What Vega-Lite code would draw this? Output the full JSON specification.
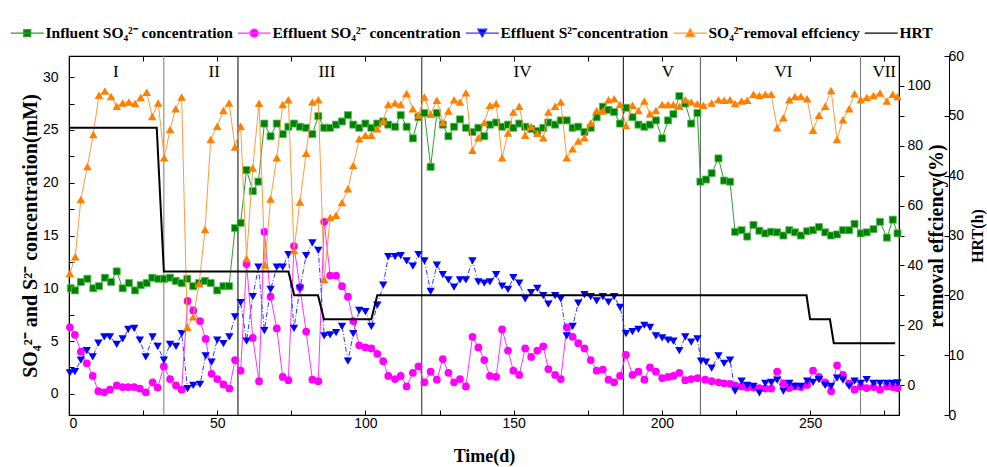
{
  "$schema": "https://vega.github.io/schema/vega-lite/v6.json",
  "width": 830,
  "height": 359,
  "autosize": {"type": "none"},
  "padding": {"left": 69, "top": 56, "right": 88, "bottom": 52},
  "background": "white",
  "config": {
    "view": {"stroke": "black", "strokeWidth": 1.2},
    "axis": {"grid": false, "domainColor": "black", "tickColor": "black", "labelColor": "black", "titleColor": "black", "labelFont": "Liberation Sans", "labelFontSize": 14, "titleFont": "Liberation Serif", "titleFontWeight": "bold", "tickWidth": 1, "domainWidth": 1}
  },
  "datasets": {
    "inf": [
      {"d":0.6,"v":10.0},{"d":2.0,"v":9.8},{"d":4.0,"v":10.6},{"d":6.2,"v":10.9},{"d":8.2,"v":10.0},{"d":10.1,"v":10.2},{"d":12.1,"v":11.0},{"d":14.2,"v":10.6},{"d":16.1,"v":11.6},{"d":18.1,"v":10.0},{"d":20.2,"v":10.5},{"d":22.3,"v":9.8},{"d":24.2,"v":10.3},{"d":26.2,"v":10.5},{"d":28.1,"v":11.0},{"d":30.1,"v":10.9},{"d":32.1,"v":10.9},{"d":34.1,"v":11.0},{"d":36.0,"v":10.7},{"d":38.0,"v":10.5},{"d":39.9,"v":10.9},{"d":41.9,"v":10.2},{"d":43.9,"v":10.5},{"d":45.9,"v":10.7},{"d":47.8,"v":10.5},{"d":50.0,"v":9.8},{"d":52.1,"v":10.2},{"d":54.0,"v":10.2},
      {"d":56.0,"v":15.7},{"d":57.9,"v":16.2},{"d":59.9,"v":21.2},{"d":62.0,"v":19.2},{"d":63.9,"v":20.1},{"d":65.9,"v":25.6},{"d":68.0,"v":24.4},{"d":70.1,"v":25.6},{"d":72.1,"v":24.6},{"d":74.0,"v":25.3},{"d":75.9,"v":25.6},{"d":77.9,"v":25.3},{"d":80.0,"v":25.2},{"d":82.1,"v":24.6},{"d":84.1,"v":26.3},{"d":86.1,"v":25.2},{"d":88.1,"v":25.2},{"d":90.1,"v":25.5},{"d":92.1,"v":25.8},{"d":94.1,"v":26.4},{"d":95.9,"v":25.5},{"d":97.9,"v":25.2},{"d":100.0,"v":25.6},{"d":102.0,"v":25.2},{"d":104.0,"v":25.6},{"d":106.0,"v":25.8},{"d":107.7,"v":25.5},
      {"d":110.0,"v":25.3},{"d":111.9,"v":26.4},{"d":113.9,"v":25.3},{"d":116.0,"v":24.2},{"d":117.9,"v":26.2},{"d":119.9,"v":26.6},{"d":122.0,"v":21.5},{"d":124.1,"v":26.6},{"d":126.1,"v":25.5},{"d":128.0,"v":24.4},{"d":129.9,"v":25.3},{"d":131.9,"v":26.0},{"d":133.9,"v":25.2},{"d":136.1,"v":24.8},{"d":138.1,"v":25.2},{"d":140.1,"v":24.4},{"d":142.0,"v":25.5},{"d":144.1,"v":25.7},{"d":146.1,"v":25.3},{"d":148.1,"v":25.5},{"d":149.9,"v":25.2},{"d":151.9,"v":25.6},{"d":153.9,"v":25.3},{"d":155.9,"v":25.1},{"d":158.0,"v":24.9},{"d":160.0,"v":25.2},{"d":161.7,"v":25.7},
      {"d":164.0,"v":25.5},{"d":165.9,"v":25.9},{"d":167.9,"v":25.9},{"d":169.9,"v":25.2},{"d":171.8,"v":25.3},{"d":173.9,"v":24.8},{"d":176.0,"v":25.2},{"d":178.0,"v":26.2},{"d":180.1,"v":27.2},{"d":182.0,"v":26.9},{"d":183.9,"v":26.7},{"d":185.9,"v":25.6},{"d":187.9,"v":27.1},{"d":190.1,"v":26.2},{"d":192.1,"v":25.5},{"d":194.1,"v":25.3},{"d":196.0,"v":25.5},{"d":198.0,"v":25.9},{"d":200.1,"v":24.2},{"d":202.1,"v":25.9},{"d":203.9,"v":26.5},{"d":205.9,"v":28.2},{"d":207.9,"v":27.5},{"d":209.9,"v":25.6},{"d":212.0,"v":26.6},
      {"d":213.0,"v":20.1},{"d":214.9,"v":20.3},{"d":216.8,"v":20.9},{"d":219.1,"v":22.3},{"d":221.0,"v":20.2},{"d":223.0,"v":20.1},{"d":224.7,"v":15.35},{"d":226.9,"v":15.5},{"d":228.8,"v":14.9},{"d":230.9,"v":16.0},{"d":232.9,"v":15.45},{"d":234.9,"v":15.2},{"d":236.9,"v":15.35},{"d":238.9,"v":15.3},{"d":241.0,"v":15.0},{"d":243.0,"v":15.5},{"d":244.9,"v":15.3},{"d":246.9,"v":15.0},{"d":249.0,"v":15.4},{"d":251.0,"v":15.5},{"d":253.0,"v":15.8},{"d":255.1,"v":15.3},{"d":257.1,"v":15.0},{"d":259.1,"v":15.1},{"d":261.1,"v":15.5},{"d":263.2,"v":15.5},{"d":265.0,"v":16.1},{"d":267.1,"v":15.2},{"d":269.1,"v":15.3},{"d":271.4,"v":15.6},{"d":273.6,"v":16.3},{"d":275.9,"v":14.8},{"d":277.9,"v":16.5},{"d":279.5,"v":15.2}
    ],
    "eff": [
      {"d":0.3,"v":6.3},{"d":2.0,"v":5.6},{"d":4.0,"v":4.0},{"d":6.0,"v":2.9},{"d":8.0,"v":1.7},{"d":9.9,"v":0.25},{"d":11.9,"v":0.15},{"d":13.8,"v":0.4},{"d":16.1,"v":0.8},{"d":18.1,"v":0.65},{"d":20.0,"v":0.65},{"d":22.0,"v":0.65},{"d":23.9,"v":0.5},{"d":25.9,"v":0.15},{"d":28.2,"v":1.1},{"d":29.9,"v":0.6},{"d":32.0,"v":2.6},{"d":34.1,"v":1.4},{"d":36.1,"v":0.8},{"d":38.0,"v":0.4},{"d":40.0,"v":8.8},{"d":41.9,"v":7.9},{"d":44.2,"v":6.9},{"d":46.1,"v":5.2},{"d":48.1,"v":1.9},{"d":50.0,"v":1.4},{"d":52.1,"v":0.9},{"d":54.1,"v":0.5},
      {"d":56.0,"v":3.2},{"d":57.9,"v":2.2},{"d":59.9,"v":12.3},{"d":62.0,"v":5.3},{"d":64.1,"v":1.2},{"d":65.9,"v":15.35},{"d":68.0,"v":9.2},{"d":70.1,"v":6.2},{"d":72.1,"v":1.6},{"d":74.0,"v":1.3},{"d":75.9,"v":14.0},{"d":77.9,"v":10.1},{"d":80.0,"v":5.9},{"d":82.1,"v":1.35},{"d":84.1,"v":1.2},{"d":86.1,"v":16.3},{"d":88.1,"v":11.2},{"d":90.1,"v":11.2},{"d":92.1,"v":10.2},{"d":94.1,"v":9.2},{"d":95.9,"v":6.9},{"d":97.9,"v":4.6},{"d":100.0,"v":4.4},{"d":102.0,"v":4.3},{"d":104.0,"v":3.8},{"d":106.0,"v":3.1},{"d":107.7,"v":1.7},
      {"d":110.0,"v":1.4},{"d":111.9,"v":1.7},{"d":113.9,"v":0.7},{"d":116.0,"v":2.0},{"d":117.9,"v":2.6},{"d":119.9,"v":1.1},{"d":122.0,"v":2.1},{"d":124.1,"v":1.35},{"d":126.1,"v":3.3},{"d":128.0,"v":2.0},{"d":129.9,"v":1.1},{"d":131.9,"v":1.4},{"d":133.9,"v":0.7},{"d":136.1,"v":5.4},{"d":138.1,"v":4.4},{"d":140.1,"v":3.2},{"d":142.0,"v":1.7},{"d":144.1,"v":1.6},{"d":146.1,"v":6.1},{"d":148.1,"v":4.1},{"d":149.9,"v":2.2},{"d":151.9,"v":1.8},{"d":153.9,"v":4.3},{"d":155.9,"v":3.5},{"d":158.0,"v":4.1},{"d":160.0,"v":4.5},{"d":161.7,"v":2.35},
      {"d":164.0,"v":1.8},{"d":165.9,"v":1.4},{"d":167.9,"v":6.3},{"d":169.9,"v":5.4},{"d":171.8,"v":4.8},{"d":173.9,"v":4.3},{"d":176.0,"v":3.2},{"d":178.0,"v":2.2},{"d":180.1,"v":2.3},{"d":182.0,"v":1.35},{"d":183.9,"v":1.1},{"d":185.9,"v":1.7},{"d":187.9,"v":3.7},{"d":190.1,"v":1.8},{"d":192.1,"v":2.1},{"d":194.1,"v":1.35},{"d":196.0,"v":2.5},{"d":198.0,"v":2.1},{"d":200.1,"v":1.5},{"d":202.1,"v":1.6},{"d":203.9,"v":1.7},{"d":205.9,"v":2.0},{"d":207.9,"v":1.3},{"d":209.9,"v":1.4},{"d":212.0,"v":1.5},
      {"d":214.6,"v":1.35},{"d":216.8,"v":1.2},{"d":219.1,"v":1.1},{"d":221.0,"v":1.0},{"d":223.0,"v":0.95},{"d":224.7,"v":0.8},{"d":226.9,"v":0.7},{"d":228.8,"v":0.6},{"d":230.9,"v":0.6},{"d":232.9,"v":0.55},{"d":234.9,"v":0.5},{"d":236.9,"v":0.5},{"d":238.9,"v":2.1},{"d":241.0,"v":1.0},{"d":243.0,"v":0.55},{"d":244.9,"v":0.7},{"d":246.9,"v":0.65},{"d":249.0,"v":0.85},{"d":251.0,"v":2.2},{"d":253.0,"v":1.6},{"d":255.1,"v":1.1},{"d":257.1,"v":0.25},{"d":259.1,"v":2.7},{"d":261.1,"v":1.8},{"d":263.2,"v":1.0},{"d":265.0,"v":0.4},{"d":267.1,"v":0.7},{"d":269.1,"v":0.55},{"d":271.4,"v":0.65},{"d":273.6,"v":0.4},{"d":275.9,"v":0.7},{"d":277.9,"v":0.65},{"d":279.5,"v":0.55}
    ],
    "s2": [
      {"d":0.3,"v":2.0},{"d":2.0,"v":2.1},{"d":4.0,"v":3.2},{"d":6.0,"v":4.1},{"d":8.0,"v":3.5},{"d":9.9,"v":4.8},{"d":11.9,"v":5.4},{"d":13.8,"v":5.4},{"d":16.1,"v":4.7},{"d":18.1,"v":5.2},{"d":20.0,"v":6.1},{"d":22.0,"v":6.2},{"d":23.9,"v":5.1},{"d":25.9,"v":3.5},{"d":28.2,"v":5.4},{"d":29.9,"v":4.5},{"d":32.0,"v":3.2},{"d":34.1,"v":4.7},{"d":36.1,"v":4.5},{"d":38.0,"v":5.7},{"d":40.0,"v":0.5},{"d":41.9,"v":0.8},{"d":44.2,"v":0.9},{"d":46.1,"v":3.6},{"d":48.1,"v":3.0},{"d":50.0,"v":5.1},{"d":52.1,"v":4.75},{"d":54.1,"v":5.4},
      {"d":56.0,"v":7.3},{"d":57.9,"v":8.65},{"d":59.9,"v":5.0},{"d":62.0,"v":9.2},{"d":63.9,"v":12.0},{"d":65.9,"v":6.0},{"d":68.0,"v":9.9},{"d":70.1,"v":12.0},{"d":72.1,"v":12.0},{"d":74.0,"v":13.2},{"d":75.9,"v":6.2},{"d":77.9,"v":10.0},{"d":80.0,"v":13.1},{"d":82.1,"v":14.3},{"d":84.1,"v":13.6},{"d":86.1,"v":5.5},{"d":88.1,"v":5.6},{"d":90.1,"v":5.8},{"d":92.1,"v":6.4},{"d":94.1,"v":3.1},{"d":95.9,"v":5.7},{"d":97.9,"v":7.9},{"d":100.0,"v":7.8},{"d":102.0,"v":6.4},{"d":104.0,"v":8.4},{"d":106.0,"v":10.3},{"d":107.7,"v":13.0},
      {"d":110.0,"v":13.0},{"d":111.9,"v":13.1},{"d":113.9,"v":12.6},{"d":116.0,"v":12.1},{"d":117.9,"v":13.2},{"d":119.9,"v":12.6},{"d":122.0,"v":9.7},{"d":124.1,"v":12.2},{"d":126.1,"v":11.3},{"d":128.0,"v":10.8},{"d":129.9,"v":10.1},{"d":131.9,"v":10.8},{"d":133.9,"v":10.8},{"d":136.1,"v":12.6},{"d":138.1,"v":10.6},{"d":140.1,"v":10.5},{"d":142.0,"v":10.6},{"d":144.1,"v":11.3},{"d":146.1,"v":10.2},{"d":148.1,"v":9.9},{"d":149.9,"v":11.0},{"d":151.9,"v":10.5},{"d":153.9,"v":9.0},{"d":155.9,"v":9.6},{"d":158.0,"v":10.0},{"d":160.0,"v":9.3},{"d":161.7,"v":8.5},
      {"d":164.0,"v":9.3},{"d":165.9,"v":9.0},{"d":167.9,"v":5.5},{"d":169.9,"v":6.4},{"d":171.8,"v":8.6},{"d":173.9,"v":9.4},{"d":176.0,"v":9.2},{"d":178.0,"v":8.8},{"d":180.1,"v":9.2},{"d":182.0,"v":8.7},{"d":183.9,"v":9.2},{"d":185.9,"v":8.2},{"d":187.9,"v":5.7},{"d":190.1,"v":5.9},{"d":192.1,"v":6.1},{"d":194.1,"v":6.5},{"d":196.0,"v":6.3},{"d":198.0,"v":5.5},{"d":200.1,"v":5.3},{"d":202.1,"v":5.1},{"d":203.9,"v":5.0},{"d":205.9,"v":4.1},{"d":207.9,"v":5.4},{"d":209.9,"v":4.9},{"d":212.0,"v":5.2},
      {"d":213.2,"v":3.1},{"d":214.9,"v":3.0},{"d":216.8,"v":2.45},{"d":219.1,"v":3.6},{"d":221.0,"v":2.9},{"d":223.0,"v":3.2},{"d":224.7,"v":0.25},{"d":226.9,"v":1.2},{"d":228.8,"v":0.8},{"d":230.9,"v":0.7},{"d":232.9,"v":0.1},{"d":234.9,"v":1.0},{"d":236.9,"v":1.1},{"d":238.9,"v":1.3},{"d":241.0,"v":0.25},{"d":243.0,"v":1.0},{"d":244.9,"v":0.7},{"d":246.9,"v":0.7},{"d":249.0,"v":1.2},{"d":251.0,"v":1.1},{"d":253.0,"v":1.35},{"d":255.1,"v":0.8},{"d":257.1,"v":0.7},{"d":259.1,"v":1.5},{"d":261.1,"v":1.3},{"d":263.2,"v":0.7},{"d":265.0,"v":1.2},{"d":267.1,"v":1.0},{"d":269.1,"v":1.35},{"d":271.4,"v":1.0},{"d":273.6,"v":1.0},{"d":275.9,"v":1.0},{"d":277.9,"v":1.0},{"d":279.5,"v":1.05}
    ],
    "rem": [
      {"d":0.3,"v":37.3},{"d":2.1,"v":42.9},{"d":4.0,"v":62.0},{"d":6.2,"v":73.1},{"d":8.2,"v":83.8},{"d":10.1,"v":96.9},{"d":12.1,"v":98.3},{"d":14.2,"v":96.5},{"d":16.1,"v":93.2},{"d":18.1,"v":94.3},{"d":20.2,"v":94.6},{"d":22.3,"v":94.1},{"d":24.2,"v":96.1},{"d":26.2,"v":97.9},{"d":28.1,"v":89.8},{"d":30.1,"v":94.3},{"d":32.1,"v":76.0},{"d":34.1,"v":85.4},{"d":36.0,"v":92.4},{"d":38.0,"v":96.3},{"d":39.9,"v":19.3},{"d":41.9,"v":22.8},{"d":43.9,"v":33.9},{"d":45.9,"v":52.0},{"d":47.8,"v":82.1},{"d":50.0,"v":86.5},{"d":52.1,"v":91.8},{"d":54.0,"v":94.3},
      {"d":56.0,"v":79.6},{"d":57.9,"v":86.5},{"d":59.9,"v":42.3},{"d":62.0,"v":72.6},{"d":64.1,"v":94.2},{"d":66.1,"v":40.1},{"d":68.0,"v":62.2},{"d":70.1,"v":76.0},{"d":72.1,"v":93.8},{"d":74.0,"v":95.4},{"d":75.9,"v":45.0},{"d":77.9,"v":61.2},{"d":80.0,"v":77.5},{"d":82.1,"v":94.6},{"d":84.1,"v":95.4},{"d":86.1,"v":35.3},{"d":88.1,"v":56.0},{"d":90.1,"v":56.8},{"d":92.1,"v":61.0},{"d":94.1,"v":65.6},{"d":95.9,"v":73.4},{"d":97.9,"v":82.3},{"d":100.0,"v":83.5},{"d":102.0,"v":83.5},{"d":104.0,"v":85.7},{"d":106.0,"v":88.3},{"d":107.7,"v":93.8},
      {"d":110.0,"v":94.3},{"d":111.9,"v":93.8},{"d":113.9,"v":97.5},{"d":116.0,"v":92.4},{"d":117.9,"v":90.2},{"d":119.9,"v":96.3},{"d":122.0,"v":90.5},{"d":124.1,"v":95.2},{"d":126.1,"v":87.8},{"d":128.0,"v":91.6},{"d":129.9,"v":95.4},{"d":131.9,"v":94.6},{"d":133.9,"v":97.7},{"d":136.1,"v":78.5},{"d":138.1,"v":82.7},{"d":140.1,"v":87.8},{"d":142.0,"v":93.5},{"d":144.1,"v":94.1},{"d":146.1,"v":76.0},{"d":148.1,"v":84.3},{"d":149.9,"v":91.3},{"d":151.9,"v":93.2},{"d":153.9,"v":83.5},{"d":155.9,"v":86.4},{"d":158.0,"v":84.2},{"d":160.0,"v":82.7},{"d":161.7,"v":91.3},
      {"d":164.0,"v":93.2},{"d":165.9,"v":94.6},{"d":167.9,"v":76.0},{"d":169.9,"v":79.0},{"d":171.8,"v":81.6},{"d":173.9,"v":82.7},{"d":176.0,"v":87.6},{"d":178.0,"v":91.8},{"d":180.1,"v":91.6},{"d":182.0,"v":95.4},{"d":183.9,"v":95.7},{"d":185.9,"v":93.8},{"d":187.9,"v":86.8},{"d":190.1,"v":93.5},{"d":192.1,"v":91.8},{"d":194.1,"v":95.0},{"d":196.0,"v":90.7},{"d":198.0,"v":91.8},{"d":200.1,"v":93.8},{"d":202.1,"v":93.8},{"d":203.9,"v":93.8},{"d":205.9,"v":93.2},{"d":207.9,"v":95.4},{"d":209.9,"v":94.6},{"d":212.0,"v":94.0},{"d":214.0,"v":93.5},
      {"d":216.8,"v":94.3},{"d":219.1,"v":95.4},{"d":221.0,"v":95.2},{"d":223.0,"v":95.4},{"d":224.7,"v":94.1},{"d":226.9,"v":95.0},{"d":228.8,"v":95.2},{"d":230.9,"v":97.2},{"d":232.9,"v":96.8},{"d":234.9,"v":97.2},{"d":236.9,"v":97.2},{"d":238.9,"v":86.0},{"d":241.0,"v":89.4},{"d":243.0,"v":95.4},{"d":244.9,"v":96.5},{"d":246.9,"v":96.5},{"d":249.0,"v":95.7},{"d":251.0,"v":85.2},{"d":253.0,"v":90.2},{"d":255.1,"v":93.2},{"d":257.1,"v":98.5},{"d":259.1,"v":82.1},{"d":261.1,"v":88.7},{"d":263.2,"v":92.4},{"d":265.0,"v":97.4},{"d":267.1,"v":95.4},{"d":269.1,"v":96.1},{"d":271.4,"v":96.8},{"d":273.6,"v":97.6},{"d":275.9,"v":95.0},{"d":277.9,"v":97.2},{"d":279.5,"v":96.5}
    ],
    "hrt": [
      {"d":0,"v":48},{"d":29.6,"v":48},{"d":32,"v":24},{"d":74,"v":24},{"d":76,"v":20},{"d":84,"v":20},{"d":86,"v":16},{"d":102,"v":16},{"d":104,"v":20},{"d":248.8,"v":20},{"d":250,"v":16},{"d":256.7,"v":16},{"d":258,"v":12},{"d":278.7,"v":12}
    ],
    "phase": [
      {"d":15.8,"v":30.5,"t":"I"},{"d":49,"v":30.5,"t":"II"},{"d":87,"v":30.5,"t":"III"},{"d":153,"v":30.5,"t":"IV"},{"d":202,"v":30.5,"t":"V"},{"d":241,"v":30.5,"t":"VI"},{"d":275,"v":30.5,"t":"VII"}
    ],
    "bounds": [
      {"d":32},{"d":57},{"d":119},{"d":187},{"d":213},{"d":267}
    ]
  },
  "resolve": {"scale": {"y": "independent"}, "axis": {"x": "independent", "y": "independent"}},
  "layer": [
    {
      "data": {"name": "bounds"},
      "mark": {"type": "rule", "strokeWidth": 1},
      "encoding": {
        "x": {"field": "d", "type": "quantitative", "scale": {"domain": [0, 280], "nice": false, "zero": false},
          "axis": {"orient": "top", "values": [0,25,50,75,100,125,150,175,200,225,250,275], "labels": false, "tickSize": -5, "domain": false, "title": null}},
        "color": {"field": "d", "type": "nominal", "legend": null,
          "scale": {"domain": [32,57,119,187,213,267], "range": ["#7a7a7a","#000000","#222222","#000000","#555555","#7a7a7a"]}}
      }
    },
    {
      "encoding": {
        "x": {"field": "d", "type": "quantitative", "scale": {"domain": [0, 280], "nice": false, "zero": false},
          "axis": {"orient": "bottom", "values": [0,25,50,75,100,125,150,175,200,225,250,275], "labelExpr": "datum.value % 50 === 0 ? format(datum.value, 'd') : ''", "tickSize": -5, "labelPadding": 6, "title": "Time(d)", "titleFontSize": 18, "titlePadding": 17}},
        "y": {"field": "v", "type": "quantitative", "scale": {"domain": [-2, 32], "nice": false, "zero": false},
          "axis": {"orient": "left", "values": [0,2.5,5,7.5,10,12.5,15,17.5,20,22.5,25,27.5,30], "labelExpr": "datum.value % 5 === 0 ? format(datum.value, 'd') : ''", "tickSize": -5, "labelPadding": 16, "title": "SO₄²⁻ and S²⁻ concentration(mM)", "titleFontSize": 20, "titlePadding": 2}}
      },
      "layer": [
        {"data": {"name": "inf"}, "mark": {"type": "line", "color": "#2e9e2e", "strokeWidth": 1}},
        {"data": {"name": "inf"}, "mark": {"type": "point", "shape": "square", "filled": true, "color": "#008000", "size": 50, "opacity": 1, "stroke": "#5cbf5c", "strokeWidth": 0.8}},
        {"data": {"name": "eff"}, "mark": {"type": "line", "color": "#ff33ff", "strokeWidth": 1}},
        {"data": {"name": "eff"}, "mark": {"type": "point", "shape": "circle", "filled": true, "color": "#ff00ff", "size": 60, "opacity": 1}},
        {"data": {"name": "s2"}, "mark": {"type": "line", "color": "#3333ff", "strokeWidth": 1, "strokeDash": [5, 2, 1, 2]}},
        {"data": {"name": "s2"}, "mark": {"type": "point", "shape": "triangle-down", "filled": true, "color": "#0000ff", "size": 70, "opacity": 1}},
        {"data": {"name": "phase"}, "mark": {"type": "text", "font": "Liberation Serif", "fontSize": 17, "color": "black", "baseline": "middle"}, "encoding": {"text": {"field": "t"}}}
      ]
    },
    {
      "data": {"name": "rem"},
      "encoding": {
        "x": {"field": "d", "type": "quantitative", "axis": null},
        "y": {"field": "v", "type": "quantitative", "scale": {"domain": [-10, 110], "nice": false, "zero": false},
          "axis": {"orient": "right", "values": [0,10,20,30,40,50,60,70,80,90,100], "labelExpr": "datum.value % 20 === 0 ? format(datum.value, 'd') : ''", "tickSize": 5, "labelPadding": 3, "title": "removal effciency(%)", "titleFontSize": 20, "titleAngle": 270, "titlePadding": 16}}
      },
      "layer": [
        {"mark": {"type": "line", "color": "#ff9a3c", "strokeWidth": 1}},
        {"mark": {"type": "point", "shape": "triangle-up", "filled": true, "color": "#ff8000", "size": 75, "opacity": 1}}
      ]
    },
    {
      "data": {"name": "hrt"},
      "mark": {"type": "line", "color": "black", "strokeWidth": 2},
      "encoding": {
        "x": {"field": "d", "type": "quantitative", "axis": null},
        "y": {"field": "v", "type": "quantitative", "scale": {"domain": [0, 60], "nice": false, "zero": false},
          "axis": {"orient": "right", "offset": 50, "values": [0,10,20,30,40,50,60], "labelExpr": "format(datum.value, 'd')", "tickSize": -5, "labelPadding": 4, "title": "HRT(h)", "titleFontSize": 16, "titleAngle": 270, "titlePadding": 22}}
      }
    },
    {
      "data": {"values": []},
      "mark": {"type": "point", "filled": true},
      "encoding": {
        "fill": {"field": "s", "type": "nominal",
          "scale": {"domain": ["Influent SO₄²⁻ concentration", "Effluent SO₄²⁻ concentration", "Effluent S²⁻concentration", "SO₄²⁻removal effciency", "HRT"], "range": ["#008000", "#ff00ff", "#0000ff", "#ff8000", "#000000"]},
          "legend": {"orient": "none", "legendX": -61, "legendY": -31, "direction": "horizontal", "columns": 5, "title": null, "labelFont": "Liberation Serif", "labelFontSize": 15.5, "labelFontWeight": "bold", "labelColor": "black", "labelLimit": 400, "symbolSize": 100, "symbolStrokeWidth": 1.2, "labelOffset": 22, "columnPadding": 2, "symbolOpacity": 1}},
        "stroke": {"field": "s", "type": "nominal",
          "scale": {"domain": ["Influent SO₄²⁻ concentration", "Effluent SO₄²⁻ concentration", "Effluent S²⁻concentration", "SO₄²⁻removal effciency", "HRT"], "range": ["#2e9e2e", "#ff33ff", "#3333ff", "#ff9a3c", "#000000"]},
          "legend": {"orient": "none", "legendX": -61, "legendY": -31, "direction": "horizontal", "columns": 5, "title": null, "labelFont": "Liberation Serif", "labelFontSize": 15.5, "labelFontWeight": "bold", "labelColor": "black", "labelLimit": 400, "symbolSize": 100, "symbolStrokeWidth": 1.2, "labelOffset": 22, "columnPadding": 2, "symbolOpacity": 1}},
        "shape": {"field": "s", "type": "nominal",
          "scale": {"domain": ["Influent SO₄²⁻ concentration", "Effluent SO₄²⁻ concentration", "Effluent S²⁻concentration", "SO₄²⁻removal effciency", "HRT"],
            "range": ["M-1,0H5.6M1.6,-0.7H3V0.7H1.6Z", "M-1,0H5.6M1.5,0A0.8,0.8 0 1,0 3.1,0A0.8,0.8 0 1,0 1.5,0Z", "M-1,0H5.6M1.4,-0.8H3.2L2.3,0.8Z", "M-1,0H5.6M2.3,-0.9L3.2,0.7H1.4Z", "M-1,0H5.6"]},
          "legend": {"orient": "none", "legendX": -61, "legendY": -31, "direction": "horizontal", "columns": 5, "title": null, "labelFont": "Liberation Serif", "labelFontSize": 15.5, "labelFontWeight": "bold", "labelColor": "black", "labelLimit": 400, "symbolSize": 100, "symbolStrokeWidth": 1.2, "labelOffset": 22, "columnPadding": 2, "symbolOpacity": 1}}
      }
    }
  ]
}
